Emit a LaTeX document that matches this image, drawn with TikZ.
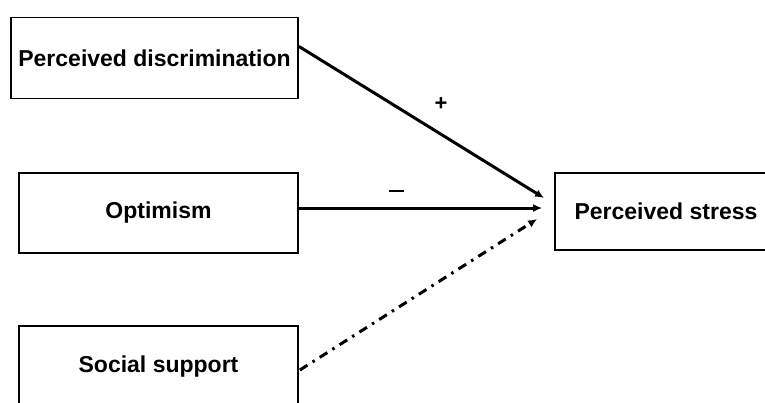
\documentclass[tikz,border=0pt]{standalone}
\usepackage{fontspec}
\setmainfont{Liberation Sans}
\usetikzlibrary{arrows.meta,calc}

\tikzset{
  varbox/.style={draw, line width=1.8pt, inner sep=2pt, font=\fontsize{23}{26}\selectfont\bfseries},
  effectline/.style={line width=3pt, -{Latex[length=9pt,width=8pt]}},
  dashline/.style={effectline, dash pattern=on 9pt off 6pt on 2.5pt off 6pt},
  sign/.style={font=\fontsize{22}{24}\selectfont\bfseries, inner sep=0pt}
}

\begin{document}
\begin{tikzpicture}[x=1pt, y=-1pt]
  \useasboundingbox (0,0) rectangle (765,402);
  \clip (0,0) rectangle (765,402);

  % predictor boxes
  \node[varbox, minimum width=287pt, minimum height=81pt] (disc) at (154.5,58) {Perceived discrimination};
  \node[varbox, minimum width=279pt, minimum height=80pt] (opt) at (158.5,213) {Optimism};
  \node[varbox, minimum width=279pt, minimum height=82pt] (soc) at (158.5,367) {Social support};

  % outcome box (runs past the right margin)
  \node[varbox, minimum width=222pt, minimum height=77pt] (stress) at (666,211.5) {Perceived stress};

  % arrow end points just left of the outcome box
  \coordinate (tdisc) at ($(stress.west)+(-10,-13.5)$);
  \coordinate (topt)  at ($(stress.west)+(-12,-3.5)$);
  \coordinate (tsoc)  at ($(stress.west)+(-17,7.5)$);

  \draw[effectline] ($(disc.north east)!0.36!(disc.south east)$) -- (tdisc);
  \draw[effectline] ($(opt.east)+(0,-5)$) -- (topt);
  \draw[dashline] ($(soc.east)+(1,3)$) -- (tsoc);

  % signs of the effects
  \node[sign] (plus) at (441,104) {+};
  \node[sign] (minus) at (396,191) {\rule{15pt}{2.5pt}};
\end{tikzpicture}
\end{document}
